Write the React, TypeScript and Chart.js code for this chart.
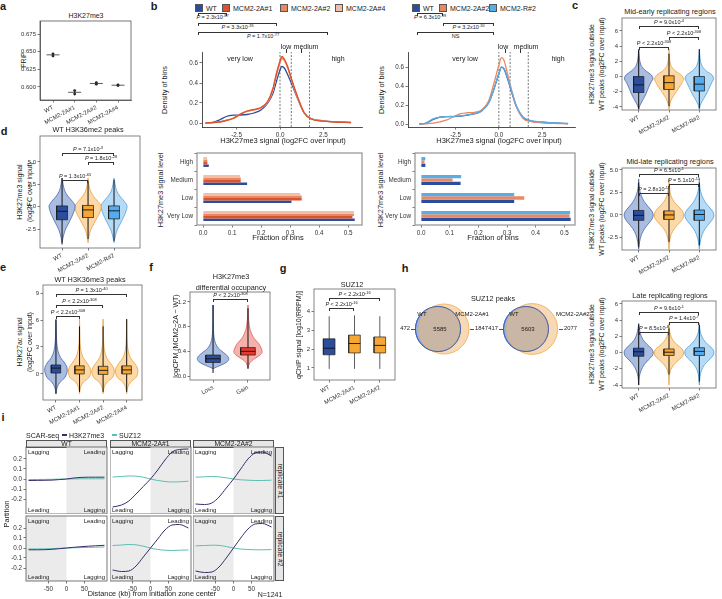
import React, { useEffect, useRef } from 'react';
import { Chart, registerables } from 'chart.js';

const FONT = '"Liberation Sans", Arial, Helvetica, sans-serif';

// ---------------- DATA ----------------
// a
const aCats = ['WT', 'MCM2-2A#1', 'MCM2-2A#2', 'MCM2-2A#4'];
const aRep1 = [0.647, 0.595, 0.606, 0.603];
const aRep2 = [0.644, 0.590, 0.604, 0.602];
const aMean = [0.6455, 0.5925, 0.605, 0.6025];
const aYTicks = [0.6, 0.625, 0.65, 0.675];

// b densities (left: WT / 2A#1 / 2A#2 / 2A#4)
const bLX = [-4.3, -3.9, -3.5, -3.1, -2.7, -2.3, -1.9, -1.5, -1.1, -0.7, -0.4, -0.2, 0, 0.1, 0.25, 0.45, 0.7, 1.0, 1.4, 1.8, 2.5, 3.2, 4.1];
const bLWT = [0, 0.005, 0.03, 0.065, 0.078, 0.08, 0.085, 0.1, 0.13, 0.2, 0.3, 0.42, 0.53, 0.565, 0.55, 0.48, 0.38, 0.25, 0.1, 0.045, 0.022, 0.013, 0.006];
const bL2A1 = [0, 0.003, 0.01, 0.025, 0.045, 0.085, 0.12, 0.135, 0.155, 0.22, 0.35, 0.5, 0.62, 0.665, 0.64, 0.56, 0.42, 0.27, 0.1, 0.04, 0.018, 0.01, 0.004];
const bL2A2 = [0, 0.003, 0.01, 0.026, 0.047, 0.088, 0.118, 0.133, 0.152, 0.215, 0.34, 0.49, 0.61, 0.65, 0.63, 0.55, 0.41, 0.26, 0.1, 0.04, 0.018, 0.01, 0.004];
const bL2A4 = [0, 0.003, 0.011, 0.028, 0.05, 0.09, 0.116, 0.13, 0.15, 0.21, 0.33, 0.48, 0.6, 0.64, 0.62, 0.545, 0.41, 0.26, 0.1, 0.041, 0.019, 0.01, 0.004];
// b densities (right: WT / 2A#2 / R#2)
const bRX = [-4.6, -4.2, -3.8, -3.4, -3.0, -2.6, -2.2, -1.8, -1.4, -1.0, -0.6, -0.3, 0, 0.15, 0.3, 0.5, 0.75, 1.0, 1.4, 1.8, 2.5, 3.2, 4.0];
const bRWT = [0, 0.01, 0.05, 0.075, 0.08, 0.08, 0.085, 0.095, 0.11, 0.14, 0.22, 0.36, 0.53, 0.6, 0.58, 0.48, 0.33, 0.19, 0.07, 0.035, 0.02, 0.012, 0.006];
const bR2A2 = [0, 0.003, 0.01, 0.025, 0.045, 0.08, 0.11, 0.12, 0.125, 0.15, 0.24, 0.42, 0.62, 0.7, 0.67, 0.53, 0.35, 0.19, 0.06, 0.03, 0.015, 0.008, 0.004];
const bRR2 = [0, 0.012, 0.055, 0.075, 0.08, 0.082, 0.088, 0.097, 0.11, 0.14, 0.22, 0.36, 0.53, 0.6, 0.585, 0.49, 0.34, 0.2, 0.075, 0.04, 0.022, 0.013, 0.007];
const bCuts = [0, 0.65, 1.7];
// b bars
const bLevels = ['High', 'Medium', 'Low', 'Very Low'];
const bBarWT = [0.02, 0.152, 0.305, 0.523];
const bBar2A1 = [0.015, 0.13, 0.34, 0.515];
const bBar2A2 = [0.015, 0.13, 0.34, 0.52];
const bBar2A4 = [0.014, 0.128, 0.335, 0.52];
const bRBarWT = [0.015, 0.138, 0.325, 0.522];
const bRBar2A2 = [0.012, 0.11, 0.36, 0.518];
const bRBarR2 = [0.015, 0.14, 0.325, 0.52];

// c violins
const cCats = ['WT', 'MCM2-2A#2', 'MCM2-R#2'];
const c1Y = [-4.3, -3.8, -3.2, -2.6, -2.0, -1.4, -0.8, -0.3, 0.2, 0.7, 1.3, 2.0, 2.8, 3.6];
const c1WT = [0, 0.04, 0.12, 0.2, 0.27, 0.33, 0.4, 0.47, 0.42, 0.25, 0.1, 0.04, 0.015, 0];
const c12A = [0, 0.02, 0.06, 0.14, 0.24, 0.34, 0.43, 0.48, 0.4, 0.22, 0.08, 0.03, 0.01, 0];
const c1R = [0, 0.03, 0.1, 0.19, 0.27, 0.34, 0.41, 0.47, 0.42, 0.24, 0.1, 0.04, 0.015, 0];
const c1Q1 = [-2.1, -1.7, -1.9], c1Med = [-1.1, -0.8, -1.0], c1Q3 = [0, 0.1, 0], c1Lo = [-4.3, -3.9, -4.2], c1Hi = [3.5, 3.0, 3.6];

const c2Y = [-3.8, -3.0, -2.2, -1.5, -0.9, -0.4, 0, 0.4, 0.9, 1.5, 2.2, 3.0, 4.0];
const c2WT = [0, 0.03, 0.09, 0.2, 0.34, 0.45, 0.48, 0.44, 0.32, 0.18, 0.08, 0.02, 0];
const c22A = [0, 0.02, 0.07, 0.18, 0.34, 0.46, 0.48, 0.45, 0.32, 0.16, 0.06, 0.02, 0];
const c2R = [0, 0.03, 0.09, 0.2, 0.34, 0.45, 0.48, 0.44, 0.32, 0.18, 0.08, 0.02, 0];
const c2Q1 = [-0.6, -0.5, -0.6], c2Med = [-0.05, 0, 0.05], c2Q3 = [0.5, 0.45, 0.55], c2Lo = [-3.6, -3.0, -3.4], c2Hi = [3.6, 3.2, 3.6];

const c3Y = [-4.0, -3.0, -2.2, -1.5, -0.9, -0.4, 0.1, 0.5, 1.0, 1.6, 2.3, 3.0, 3.6];
const c3WT = [0, 0.02, 0.08, 0.18, 0.32, 0.45, 0.48, 0.42, 0.28, 0.14, 0.06, 0.02, 0];
const c32A = [0, 0.01, 0.05, 0.16, 0.32, 0.46, 0.48, 0.42, 0.26, 0.12, 0.04, 0.01, 0];
const c3R = [0, 0.02, 0.07, 0.17, 0.32, 0.45, 0.48, 0.43, 0.28, 0.14, 0.05, 0.015, 0];
const c3Q1 = [-0.45, -0.35, -0.35], c3Med = [0.1, 0.05, 0.15], c3Q3 = [0.55, 0.45, 0.6], c3Lo = [-4.0, -2.7, -3.6], c3Hi = [3.5, 3.0, 3.4];

// d
const dY = [-4.0, -3.4, -2.6, -1.9, -1.2, -0.5, 0.1, 0.6, 1.2, 1.8, 2.5, 3.2];
const dWT = [0, 0.04, 0.12, 0.24, 0.36, 0.46, 0.5, 0.4, 0.22, 0.1, 0.04, 0];
const d2A = [0, 0.03, 0.1, 0.22, 0.35, 0.47, 0.5, 0.38, 0.2, 0.09, 0.03, 0];
const dR = [0, 0.04, 0.12, 0.24, 0.36, 0.46, 0.5, 0.4, 0.22, 0.1, 0.04, 0];
const dQ1 = [-1.45, -1.2, -1.35], dMed = [-0.5, -0.35, -0.45], dQ3 = [0.1, 0.15, 0.1], dLo = [-4.2, -3.6, -3.8], dHi = [3.2, 2.9, 3.0];

// e
const eCats = ['WT', 'MCM2-2A#1', 'MCM2-2A#2', 'MCM2-2A#4'];
const eY = [-2.2, -1.5, -0.9, -0.4, 0.2, 0.7, 1.2, 1.8, 2.6, 3.6, 4.6, 5.6, 6.1];
const eWT = [0, 0.05, 0.18, 0.38, 0.47, 0.47, 0.38, 0.2, 0.08, 0.03, 0.015, 0.005, 0];
const e2A1 = [0, 0.04, 0.17, 0.4, 0.48, 0.44, 0.32, 0.16, 0.06, 0.02, 0.01, 0.004, 0];
const e2A2 = [0, 0.04, 0.17, 0.4, 0.48, 0.44, 0.31, 0.15, 0.06, 0.02, 0.01, 0.004, 0];
const e2A4 = [0, 0.04, 0.17, 0.39, 0.48, 0.45, 0.33, 0.16, 0.06, 0.02, 0.01, 0.004, 0];
const eQ1 = [0.1, 0.0, -0.05, 0.0], eMed = [0.65, 0.45, 0.4, 0.45], eQ3 = [1.0, 0.9, 0.85, 0.9], eLo = [-2.2, -2.0, -2.0, -2.0], eHi = [6.0, 5.3, 5.3, 6.1];

// f
const fCats = ['Loss', 'Gain'];
const fY = [0.12, 0.17, 0.22, 0.27, 0.32, 0.38, 0.45, 0.53, 0.62, 0.75, 0.9, 1.15];
const fLoss = [0, 0.2, 0.38, 0.45, 0.42, 0.3, 0.15, 0.07, 0.03, 0.012, 0.005, 0];
const fGain = [0, 0.02, 0.06, 0.16, 0.3, 0.4, 0.38, 0.3, 0.16, 0.06, 0.02, 0];
const fQ1 = [0.22, 0.34], fMed = [0.28, 0.4], fQ3 = [0.34, 0.46], fLo = [0.05, 0.12], fHi = [1.15, 1.1];

// g
const gCats = ['WT', 'MCM2-2A#1', 'MCM2-2A#2'];
const gQ1 = [1.7, 1.8, 1.8], gMed = [2.05, 2.3, 2.2], gQ3 = [2.55, 2.75, 2.65], gLo = [0.95, 0.95, 0.95], gHi = [3.75, 3.8, 3.75];

// h venn counts
const hOnlyWT = [472, 417];
const hBoth = [5585, 5603];
const hOnlyMut = [1847, 2077];

// i SCAR-seq partition
const iX = [-105, -80, -60, -40, -20, 0, 20, 40, 60, 80, 105];
const iK27 = [
  [[-0.015, -0.014, -0.013, -0.011, -0.006, 0, 0.01, 0.016, 0.018, 0.018, 0.018],
   [-0.28, -0.26, -0.22, -0.15, -0.075, 0, 0.09, 0.19, 0.27, 0.295, 0.3],
   [-0.25, -0.255, -0.24, -0.18, -0.09, 0, 0.1, 0.2, 0.26, 0.27, 0.23]],
  [[-0.018, -0.018, -0.017, -0.013, -0.007, 0, 0.007, 0.013, 0.018, 0.022, 0.027],
   [-0.22, -0.235, -0.23, -0.18, -0.09, 0, 0.09, 0.18, 0.23, 0.235, 0.2],
   [-0.23, -0.245, -0.24, -0.19, -0.1, 0, 0.1, 0.19, 0.24, 0.245, 0.21]],
];
const iSUZ = [
  [[-0.006, -0.005, -0.004, -0.003, -0.001, 0, 0.001, 0.002, 0.002, 0.002, 0.002],
   [0.02, 0.025, 0.03, 0.028, 0.018, 0, -0.015, -0.025, -0.03, -0.028, -0.022],
   [0.018, 0.022, 0.025, 0.022, 0.012, 0, -0.008, -0.012, -0.015, -0.015, -0.012]],
  [[-0.01, -0.009, -0.008, -0.006, -0.003, 0, 0.002, 0.004, 0.006, 0.008, 0.01],
   [0.025, 0.03, 0.035, 0.032, 0.018, 0, -0.015, -0.022, -0.025, -0.022, -0.02],
   [0.022, 0.025, 0.028, 0.026, 0.015, 0, -0.01, -0.015, -0.018, -0.018, -0.016]],
];
const iCols = ['WT', 'MCM2-2A#1', 'MCM2-2A#2'];
const iRows = ['replicate #1', 'replicate #2'];

// ---------------- STYLE ----------------
const CWT = '#2c4c9c', C2A1 = '#d9532c', C2A2 = '#ea8862', C2A4 = '#f2bea9', CR2 = '#5aaee6';
const CPUR = '#3b2d6c', CTEAL = '#5cbfb1';
const vWT = { fill: '#a9bde1', line: '#4a66ac', box: '#2c4c9c' };
const v2A = { fill: '#fcd9a6', line: '#e9a145', box: '#f6a733' };
const vR = { fill: '#b7dbf5', line: '#4f9fdc', box: '#55abee' };
const vGain = { fill: '#f5b2ac', line: '#de5a50', box: '#e8392e' };

// ---------------- PLUGINS ----------------
const framePlugin = {
  id: 'frame',
  afterDatasetsDraw(chart: any, _a: any, opts: any) {
    if (!opts || !opts.color) return;
    const a = chart.chartArea; const ctx = chart.ctx;
    ctx.save(); ctx.strokeStyle = opts.color; ctx.lineWidth = opts.width || 1;
    ctx.strokeRect(a.left, a.top, a.right - a.left, a.bottom - a.top);
    ctx.restore();
  },
};
const bandPlugin = {
  id: 'bands',
  beforeDatasetsDraw(chart: any, _a: any, opts: any) {
    if (!opts || !opts.items) return;
    const { ctx, chartArea: a, scales } = chart;
    ctx.save();
    for (const b of opts.items) {
      const x0 = scales.x.getPixelForValue(b.x0), x1 = scales.x.getPixelForValue(b.x1);
      ctx.fillStyle = b.color;
      ctx.fillRect(Math.min(x0, x1), a.top, Math.abs(x1 - x0), a.bottom - a.top);
    }
    ctx.restore();
  },
};
Chart.register(...registerables, framePlugin, bandPlugin);

// ---------------- HELPERS ----------------
const tf = (s = 6) => ({ family: FONT, size: s });
function lin(min: number, max: number, ticks: number[], o: any = {}) {
  return {
    type: 'linear', min, max,
    afterBuildTicks: (s: any) => { s.ticks = ticks.map((v) => ({ value: v })); },
    ticks: {
      display: o.labels ?? true, font: tf(o.fs ?? 6), color: '#333', padding: o.pad ?? 1.5, autoSkip: false,
      maxRotation: o.rot ?? 0, minRotation: o.rot ?? 0, callback: o.fmt ?? ((v: number) => String(v)),
    },
    grid: { drawOnChartArea: false, drawTicks: o.tm ?? true, tickLength: 2.5, color: '#444', lineWidth: 0.7 },
    border: { display: o.border ?? true, color: o.bc ?? '#444', width: o.bw ?? 0.8 },
  };
}
function opts(scales: any, plugins: any = {}, extra: any = {}) {
  return { scales, plugins: { legend: { display: false }, tooltip: { enabled: false }, ...plugins }, events: [], ...extra };
}

type Fr = { x: number; y: number; w: number; h: number };
type Mg = { l: number; t: number; r: number; b: number };
function ChartBox({ f, m, cfg }: { f: Fr; m: Mg; cfg: () => any }) {
  const ref = useRef<HTMLCanvasElement>(null);
  useEffect(() => {
    const c = cfg();
    c.options = c.options || {};
    c.options.responsive = false;
    c.options.animation = false;
    c.options.devicePixelRatio = 1;
    c.options.layout = { autoPadding: false, padding: { left: 0, top: m.t, right: m.r, bottom: 0 } };
    const sc = c.options.scales || {};
    for (const k of Object.keys(sc)) {
      const horiz = k[0] === 'x';
      sc[k].afterFit = (ax: any) => {
        if (horiz) ax.height = m.b; else ax.width = m.l;
        ax.paddingLeft = 0; ax.paddingRight = 0; ax.paddingTop = 0; ax.paddingBottom = 0;
      };
    }
    const ch = new Chart(ref.current as HTMLCanvasElement, c);
    return () => ch.destroy();
  }, []);
  const W = f.w + m.l + m.r, H = f.h + m.t + m.b;
  return <canvas ref={ref} width={W} height={H} style={{ position: 'absolute', left: f.x - m.l, top: f.y - m.t, width: W, height: H }} />;
}

function T({ x, y, s = 7, a = 'c', r = 0, b = false, c = '#1a1a1a', children }: any) {
  const tx = a === 'l' ? '0%' : a === 'r' ? '-100%' : '-50%';
  return (
    <div style={{ position: 'absolute', left: x, top: y, fontSize: s, lineHeight: 1, fontWeight: b ? 700 : 400, color: c, whiteSpace: 'nowrap', fontFamily: FONT, transform: `translate(${tx},-50%) rotate(${r}deg)` }}>{children}</div>
  );
}
function PV({ op = '=', m, e }: any) {
  return <><i>P</i>{` ${op} ${m}x10`}<sup style={{ fontSize: '0.72em', verticalAlign: '0.55em', lineHeight: 0 }}>{e}</sup></>;
}
function Br({ x1, x2, y, below = false, children, s = 5.5 }: any) {
  return (
    <>
      <div style={{ position: 'absolute', left: x1, top: y, width: x2 - x1, height: 2.5, borderTop: '0.8px solid #333', borderLeft: '0.8px solid #333', borderRight: '0.8px solid #333', boxSizing: 'border-box' }} />
      <T x={(x1 + x2) / 2} y={below ? y + 5 : y - 3.2} s={s}>{children}</T>
    </>
  );
}
function Sq({ x, y, c }: any) {
  return <div style={{ position: 'absolute', left: x, top: y, width: 8, height: 8, background: c, border: '0.6px solid #555', boxSizing: 'border-box' }} />;
}

// ---------------- CHART CONFIGS ----------------
const cfgA = () => ({
  type: 'line',
  data: {
    datasets: [
      ...aCats.map((_, i) => ({ data: [{ x: i - 0.3, y: aMean[i] }, { x: i + 0.3, y: aMean[i] }], borderColor: '#333', borderWidth: 0.8, pointRadius: 0 })),
      ...aCats.map((_, i) => ({ data: [{ x: i, y: aRep1[i] }, { x: i, y: aRep2[i] }], borderColor: '#333', borderWidth: 0.7, pointRadius: 0 })),
      { data: aCats.flatMap((_, i) => [{ x: i, y: aRep1[i] }, { x: i, y: aRep2[i] }]), showLine: false, pointRadius: 1.4, pointBackgroundColor: '#222', pointBorderWidth: 0 },
    ],
  },
  options: opts({
    x: lin(-0.6, 3.6, [0, 1, 2, 3], { rot: 28, fmt: (v: number) => aCats[v] }),
    y: lin(0.5816, 0.6934, aYTicks, { fmt: (v: number) => v.toFixed(3) }),
  }, { frame: { color: '#555', width: 0.8 } }),
});

function densCfg(xs: number[], series: number[][], colors: string[], xMin: number, xMax: number, yMin: number, yMax: number) {
  const ds = series.map((s, k) => ({ data: xs.map((xv, i) => ({ x: xv, y: s[i] })), borderColor: colors[k], borderWidth: 1.3, pointRadius: 0, cubicInterpolationMode: 'monotone' }));
  const cuts = bCuts.map((c) => ({ data: [{ x: c, y: yMin }, { x: c, y: yMax }], borderColor: '#555', borderWidth: 0.8, borderDash: [2, 1.5], pointRadius: 0 }));
  return {
    type: 'line',
    data: { datasets: [...ds.reverse(), ...cuts] },
    options: opts({
      x: lin(xMin, xMax, [-2.5, 0, 2.5], { fmt: (v: number) => v.toFixed(1), bc: '#222', fs: 6.3 }),
      y: lin(yMin, yMax, [0, 0.2, 0.4, 0.6], { fmt: (v: number) => v.toFixed(1), bc: '#222', fs: 6.3 }),
    }),
  };
}

function barCfg(series: number[][], colors: string[], xMin: number, xMax: number) {
  return {
    type: 'bar',
    data: { labels: bLevels, datasets: series.map((s, k) => ({ data: s, backgroundColor: colors[k], borderWidth: 0, categoryPercentage: 0.55, barPercentage: 1 })) },
    options: opts({
      x: lin(xMin, xMax, [0, 0.1, 0.2, 0.3, 0.4, 0.5], { fmt: (v: number) => v.toFixed(1), border: false, fs: 6.3 }),
      y: { type: 'category', ticks: { font: tf(6.3), color: '#333', padding: 1.5 }, grid: { drawOnChartArea: false, tickLength: 2.5, color: '#444', lineWidth: 0.7 }, border: { display: false } },
    }, { frame: { color: '#9a9a9a', width: 1.3 } }, { indexAxis: 'y' }),
  };
}

function violinSets(yLv: number[], widths: number[][], q1: number[], med: number[], q3: number[], lo: number[], hi: number[], cols: any[], bw: number) {
  const meds: any[] = [], boxes: any[] = [], whisk: any[] = [], vio: any[] = [];
  widths.forEach((w, i) => {
    const right = yLv.map((y, k) => ({ x: i + w[k], y }));
    const left = yLv.map((y, k) => ({ x: i - w[k], y })).reverse();
    vio.push({ data: [...right, ...left], borderColor: cols[i].line, backgroundColor: cols[i].fill, fill: 'shape', borderWidth: 0.8, pointRadius: 0, tension: 0.3 });
    whisk.push({ data: [{ x: i, y: lo[i] }, { x: i, y: hi[i] }], borderColor: '#111', borderWidth: 1, pointRadius: 0 });
    boxes.push({ data: [{ x: i - bw, y: q1[i] }, { x: i + bw, y: q1[i] }, { x: i + bw, y: q3[i] }, { x: i - bw, y: q3[i] }, { x: i - bw, y: q1[i] }], borderColor: '#1a1a1a', backgroundColor: cols[i].box, fill: 'shape', borderWidth: 0.7, pointRadius: 0, tension: 0 });
    meds.push({ data: [{ x: i - bw, y: med[i] }, { x: i + bw, y: med[i] }], borderColor: '#111', borderWidth: 0.9, pointRadius: 0 });
  });
  return [...meds, ...boxes, ...whisk, ...vio];
}
function violinCfg(cats: string[], ds: any[], xMin: number, xMax: number, yMin: number, yMax: number, yT: number[], yFmt: (v: number) => string) {
  return {
    type: 'line',
    data: { datasets: ds },
    options: opts({
      x: lin(xMin, xMax, cats.map((_, i) => i), { rot: 28, fmt: (v: number) => cats[v], border: false }),
      y: lin(yMin, yMax, yT, { fmt: yFmt, border: false }),
    }, { frame: { color: '#666', width: 0.8 } }),
  };
}
const fmt1 = (v: number) => v.toFixed(1);
const fmt0 = (v: number) => String(v);

const cfgC1 = () => violinCfg(cCats, violinSets(c1Y, [c1WT, c12A, c1R], c1Q1, c1Med, c1Q3, c1Lo, c1Hi, [vWT, v2A, vR], 0.17), -0.55, 2.55, -4.4, 7.7, [-4, -2, 0, 2, 4, 6], fmt0);
const cfgC2 = () => violinCfg(cCats, violinSets(c2Y, [c2WT, c22A, c2R], c2Q1, c2Med, c2Q3, c2Lo, c2Hi, [vWT, v2A, vR], 0.17), -0.55, 2.55, -3.9, 5.22, [-2.5, 0, 2.5, 5], fmt1);
const cfgC3 = () => violinCfg(cCats, violinSets(c3Y, [c3WT, c32A, c3R], c3Q1, c3Med, c3Q3, c3Lo, c3Hi, [vWT, v2A, vR], 0.17), -0.55, 2.55, -4.37, 6.37, [-4, -2, 0, 2, 4, 6], fmt0);
const cfgD = () => violinCfg(cCats, violinSets(dY, [dWT, d2A, dR], dQ1, dMed, dQ3, dLo, dHi, [vWT, v2A, vR], 0.21), -0.85, 3.0, -4.6, 7.9, [-2.5, 0, 2.5, 5], fmt1);
const cfgE = () => violinCfg(eCats, violinSets(eY, [eWT, e2A1, e2A2, e2A4], eQ1, eMed, eQ3, eLo, eHi, [vWT, v2A, v2A, v2A], 0.2), -0.55, 3.65, -2.9, 9.9, [0, 3, 6, 9], fmt0);
const cfgF = () => violinCfg(fCats, violinSets(fY, [fLoss, fGain], fQ1, fMed, fQ3, fLo, fHi, [vWT, vGain], 0.21), -0.66, 1.63, -0.064, 1.36, [0, 0.4, 0.8, 1.2], fmt1);

const cfgG = () => {
  const bw = 0.23;
  const cols = [CWT, '#f6a733', '#f6a733'];
  const meds: any[] = [], boxes: any[] = [], whisk: any[] = [];
  gCats.forEach((_, i) => {
    meds.push({ data: [{ x: i - bw, y: gMed[i] }, { x: i + bw, y: gMed[i] }], borderColor: '#111', borderWidth: 0.9, pointRadius: 0 });
    boxes.push({ data: [{ x: i - bw, y: gQ1[i] }, { x: i + bw, y: gQ1[i] }, { x: i + bw, y: gQ3[i] }, { x: i - bw, y: gQ3[i] }, { x: i - bw, y: gQ1[i] }], borderColor: '#222', backgroundColor: cols[i], fill: 'shape', borderWidth: 0.7, pointRadius: 0, tension: 0 });
    whisk.push({ data: [{ x: i, y: gLo[i] }, { x: i, y: gHi[i] }], borderColor: '#333', borderWidth: 0.8, pointRadius: 0 });
  });
  return violinCfg(gCats, [...meds, ...boxes, ...whisk], -0.6, 2.6, 0.36, 5.2, [1, 2, 3, 4], fmt0);
};

// venn geometry from counts
const HK = 0.29; // px per sqrt(count)
function overlapArea(r1: number, r2: number, d: number) {
  if (d >= r1 + r2) return 0;
  if (d <= Math.abs(r1 - r2)) return Math.PI * Math.min(r1, r2) ** 2;
  const a1 = r1 * r1 * Math.acos((d * d + r1 * r1 - r2 * r2) / (2 * d * r1));
  const a2 = r2 * r2 * Math.acos((d * d + r2 * r2 - r1 * r1) / (2 * d * r2));
  const a3 = 0.5 * Math.sqrt((-d + r1 + r2) * (d + r1 - r2) * (d - r1 + r2) * (d + r1 + r2));
  return a1 + a2 - a3;
}
function vennGeom(k: number) {
  const rW = HK * Math.sqrt(hOnlyWT[k] + hBoth[k]);
  const rM = HK * Math.sqrt(hBoth[k] + hOnlyMut[k]);
  const target = Math.PI * HK * HK * hBoth[k];
  let lo = Math.abs(rW - rM), hi = rW + rM;
  for (let it = 0; it < 60; it++) { const mid = (lo + hi) / 2; if (overlapArea(rW, rM, mid) > target) lo = mid; else hi = mid; }
  return { rW, rM, d: (lo + hi) / 2 };
}
const vennAnchor = [38, 126]; // WT circle centre within the venn canvas
const cfgH = () => {
  const g = [vennGeom(0), vennGeom(1)];
  const wtOutline = { data: g.map((v, k) => ({ x: vennAnchor[k], y: 29, r: v.rW })), backgroundColor: 'rgba(0,0,0,0)', borderColor: '#3d5fb0', borderWidth: 0.9 };
  const mut = { data: g.map((v, k) => ({ x: vennAnchor[k] + v.d, y: 29, r: v.rM })), backgroundColor: 'rgba(240,185,120,0.55)', borderColor: '#f0b35e', borderWidth: 0.9 };
  const wt = { data: g.map((v, k) => ({ x: vennAnchor[k], y: 29, r: v.rW })), backgroundColor: '#9cb2dc', borderColor: '#3d5fb0', borderWidth: 0.9 };
  return {
    type: 'bubble',
    data: { datasets: [wtOutline, mut, wt] },
    options: opts({ x: { type: 'linear', min: 0, max: 180, display: false }, y: { type: 'linear', min: 0, max: 58, display: false } }, {}, { clip: false }),
  };
};

function iCfg(row: number, col: number) {
  const yMin = row === 0 ? -0.35 : -0.33;
  const yMax = 0.32;
  const shade = row === 0 ? { x0: 0, x1: 112, color: '#ebebeb' } : { x0: -112, x1: 0, color: '#ebebeb' };
  return {
    type: 'line',
    data: {
      datasets: [
        { data: iX.map((x, i) => ({ x, y: iK27[row][col][i] })), borderColor: CPUR, borderWidth: 1, pointRadius: 0, cubicInterpolationMode: 'monotone' },
        { data: iX.map((x, i) => ({ x, y: iSUZ[row][col][i] })), borderColor: CTEAL, borderWidth: 1, pointRadius: 0, cubicInterpolationMode: 'monotone' },
      ],
    },
    options: opts({
      x: lin(-112, 112, [-50, 0, 50], { labels: row === 1, tm: row === 1, border: false, fs: 6.3 }),
      y: lin(yMin, yMax, [-0.2, -0.1, 0, 0.1, 0.2], { labels: col === 0, tm: col === 0, border: false, fmt: fmt1, fs: 6.3 }),
    }, { frame: { color: '#555', width: 0.8 }, bands: { items: [shade] } }),
  };
}

// ---------------- APP ----------------
export default function App() {
  const iColX = [26, 110, 193];
  const iRowY = [447, 516];
  const iRowH = [67, 65];
  return (
    <div style={{ position: 'absolute', left: 0, top: 0, width: 722, height: 599, background: '#fff', overflow: 'hidden', fontFamily: FONT }}>
      {/* panel letters */}
      <T x={3} y={6} s={11} b>a</T>
      <T x={154} y={6} s={11} b>b</T>
      <T x={575} y={5} s={11} b>c</T>
      <T x={4} y={131} s={11} b>d</T>
      <T x={3} y={267} s={11} b>e</T>
      <T x={151} y={267} s={11} b>f</T>
      <T x={283} y={268} s={11} b>g</T>
      <T x={405} y={268} s={11} b>h</T>
      <T x={3} y={417} s={11} b>i</T>

      {/* a */}
      <T x={86} y={15} s={7}>H3K27me3</T>
      <T x={23} y={60} s={7} r={-90}>FRiP</T>
      <ChartBox f={{ x: 40, y: 21, w: 91, h: 79 }} m={{ l: 30, t: 3, r: 3, b: 45 }} cfg={cfgA} />

      {/* b legends */}
      <Sq x={195} y={4} c={CWT} /><T x={206} y={8} s={7} a="l">WT</T>
      <Sq x={222} y={4} c={C2A1} /><T x={233} y={8} s={7} a="l">MCM2-2A#1</T>
      <Sq x={280} y={4} c={C2A2} /><T x={291} y={8} s={7} a="l">MCM2-2A#2</T>
      <Sq x={335} y={4} c={C2A4} /><T x={346} y={8} s={7} a="l">MCM2-2A#4</T>
      <Sq x={412} y={4} c={CWT} /><T x={423} y={8} s={7} a="l">WT</T>
      <Sq x={439} y={4} c={C2A2} /><T x={450} y={8} s={7} a="l">MCM2-2A#2</T>
      <Sq x={489} y={4} c={CR2} /><T x={500} y={8} s={7} a="l">MCM2-R#2</T>
      <Br x1={198} x2={227} y={13} below><PV m="2.3" e="-87" /></Br>
      <Br x1={198} x2={277} y={23} below><PV m="3.3" e="-35" /></Br>
      <Br x1={198} x2={328} y={32} below><PV m="1.7" e="-77" /></Br>
      <Br x1={417} x2={443} y={13} below><PV m="6.3" e="-99" /></Br>
      <Br x1={443} x2={494} y={23} below><PV m="3.2" e="-30" /></Br>
      <Br x1={417} x2={494} y={32} below>NS</Br>

      {/* b density */}
      <T x={165} y={90} s={7.3} r={-90}>Density of bins</T>
      <T x={382} y={90} s={7.3} r={-90}>Density of bins</T>
      <ChartBox f={{ x: 202, y: 52, w: 160, h: 75 }} m={{ l: 22, t: 2, r: 2, b: 12 }} cfg={() => densCfg(bLX, [bLWT, bL2A4, bL2A2, bL2A1], [CWT, C2A4, C2A2, C2A1], -4.5, 4.73, -0.04, 0.71)} />
      <ChartBox f={{ x: 408, y: 52, w: 167, h: 75 }} m={{ l: 22, t: 2, r: 2, b: 12 }} cfg={() => densCfg(bRX, [bRWT, bR2A2, bRR2], [CWT, C2A2, CR2], -5.25, 4.4, -0.03, 0.76)} />
      <T x={240} y={58} s={7}>very low</T>
      <T x={338} y={58} s={7}>high</T>
      <T x={286} y={46} s={7}>low</T>
      <T x={306} y={46} s={7}>medium</T>
      <div style={{ position: 'absolute', left: 285.5, top: 49, width: 0.8, height: 4, background: '#333' }} />
      <div style={{ position: 'absolute', left: 300.5, top: 49, width: 0.8, height: 4, background: '#333' }} />
      <T x={465} y={58} s={7}>very low</T>
      <T x={558} y={58} s={7}>high</T>
      <T x={503} y={46} s={7}>low</T>
      <T x={526} y={46} s={7}>medium</T>
      <div style={{ position: 'absolute', left: 504.5, top: 49, width: 0.8, height: 4, background: '#333' }} />
      <div style={{ position: 'absolute', left: 519.5, top: 49, width: 0.8, height: 4, background: '#333' }} />
      <T x={283} y={141} s={7.5}>H3K27me3 signal (log2FC over input)</T>
      <T x={499} y={141} s={7.5}>H3K27me3 signal (log2FC over input)</T>

      {/* b bars */}
      <T x={161} y={190} s={7.3} r={-90}>H3K27me3 signal level</T>
      <T x={381} y={190} s={7.3} r={-90}>H3K27me3 signal level</T>
      <ChartBox f={{ x: 197, y: 153, w: 165, h: 72 }} m={{ l: 34, t: 2, r: 2, b: 12 }} cfg={() => barCfg([bBar2A4, bBar2A2, bBar2A1, bBarWT], [C2A4, C2A2, C2A1, CWT], -0.0207, 0.548)} />
      <ChartBox f={{ x: 415, y: 153, w: 160, h: 72 }} m={{ l: 34, t: 2, r: 2, b: 12 }} cfg={() => barCfg([bRBarR2, bRBar2A2, bRBarWT], [CR2, C2A2, CWT], -0.021, 0.537)} />
      <T x={278} y={238} s={7.5}>Fraction of bins</T>
      <T x={493} y={238} s={7.5}>Fraction of bins</T>

      {/* c */}
      <T x={670} y={12} s={7.3}>Mid-early replicating regions</T>
      <T x={591} y={64} s={7} r={-90}>H3K27me3 signal outside</T>
      <T x={601} y={64} s={7} r={-90}>WT peaks (log2FC over input)</T>
      <ChartBox f={{ x: 622, y: 18, w: 94, h: 92 }} m={{ l: 14, t: 2, r: 2, b: 40 }} cfg={cfgC1} />
      <Br x1={639} x2={699} y={26}><PV m="9.0" e="-4" /></Br>
      <Br x1={669} x2={699} y={37}><PV op="<" m="2.2" e="-308" /></Br>
      <Br x1={639} x2={669} y={47}><PV op="<" m="2.2" e="-308" /></Br>

      <T x={670} y={162} s={7.3}>Mid-late replicating regions</T>
      <T x={591} y={209} s={7} r={-90}>H3K27me3 signal outside</T>
      <T x={601} y={209} s={7} r={-90}>WT peaks (log2FC over input)</T>
      <ChartBox f={{ x: 622, y: 168, w: 94, h: 82 }} m={{ l: 14, t: 2, r: 2, b: 40 }} cfg={cfgC2} />
      <Br x1={639} x2={699} y={174}><PV m="6.5" e="-1" /></Br>
      <Br x1={669} x2={699} y={184}><PV m="5.1" e="-15" /></Br>
      <Br x1={639} x2={669} y={193}><PV m="2.8" e="-11" /></Br>

      <T x={670} y={296} s={7.3}>Late replicating regions</T>
      <T x={591} y={344} s={7} r={-90}>H3K27me3 signal outside</T>
      <T x={601} y={344} s={7} r={-90}>WT peaks (log2FC over input)</T>
      <ChartBox f={{ x: 622, y: 301, w: 94, h: 87 }} m={{ l: 14, t: 2, r: 2, b: 40 }} cfg={cfgC3} />
      <Br x1={639} x2={699} y={312}><PV m="9.6" e="-1" /></Br>
      <Br x1={669} x2={699} y={322}><PV m="1.4" e="-7" /></Br>
      <Br x1={639} x2={669} y={332}><PV m="8.5" e="-8" /></Br>

      {/* d */}
      <T x={88} y={130} s={7.3}>WT H3K36me2 peaks</T>
      <T x={19} y={192} s={7} r={-90}>H3K27me3 signal</T>
      <T x={29} y={192} s={7} r={-90}>(log2FC over input)</T>
      <ChartBox f={{ x: 40, y: 136, w: 100, h: 112 }} m={{ l: 14, t: 2, r: 2, b: 40 }} cfg={cfgD} />
      <Br x1={62} x2={114} y={153}><PV m="7.1" e="-3" /></Br>
      <Br x1={88} x2={114} y={162}><PV m="1.8" e="-28" /></Br>
      <Br x1={62} x2={88} y={180}><PV m="1.3" e="-65" /></Br>

      {/* e */}
      <T x={90} y={280} s={7.3}>WT H3K36me3 peaks</T>
      <T x={19} y={342} s={7} r={-90}>H3K27ac signal</T>
      <T x={29} y={342} s={7} r={-90}>(log2FC over input)</T>
      <ChartBox f={{ x: 43, y: 285, w: 99, h: 115 }} m={{ l: 10, t: 2, r: 2, b: 40 }} cfg={cfgE} />
      <Br x1={56} x2={127} y={294}><PV m="1.3" e="-40" /></Br>
      <Br x1={56} x2={103} y={305}><PV op="<" m="2.2" e="-308" /></Br>
      <Br x1={56} x2={80} y={316}><PV op="<" m="2.2" e="-308" /></Br>

      {/* f */}
      <T x={231} y={277} s={7.3}>H3K27me3</T>
      <T x={231} y={288} s={7.3}>differential occupancy</T>
      <T x={175} y={336} s={7} r={-90}>logCPM (MCM2−2A − WT)</T>
      <ChartBox f={{ x: 190, y: 292, w: 80, h: 88 }} m={{ l: 12, t: 2, r: 2, b: 30 }} cfg={cfgF} />
      <Br x1={213} x2={248} y={299}><PV op="<" m="2.2" e="-308" /></Br>

      {/* g */}
      <T x={352} y={285} s={7.3}>SUZ12</T>
      <T x={298} y={335} s={7} r={-90}>qChIP signal [log10(RRPM)]</T>
      <ChartBox f={{ x: 314, y: 289, w: 81, h: 91 }} m={{ l: 9, t: 2, r: 2, b: 40 }} cfg={cfgG} />
      <Br x1={329} x2={380} y={298}><PV op="<" m="2.2" e="-16" /></Br>
      <Br x1={329} x2={354} y={308}><PV op="<" m="2.2" e="-16" /></Br>

      {/* h */}
      <T x={493} y={299} s={7.3}>SUZ12 peaks</T>
      <ChartBox f={{ x: 400, y: 300, w: 180, h: 58 }} m={{ l: 0, t: 0, r: 0, b: 0 }} cfg={cfgH} />
      <T x={422} y={314} s={6}>WT</T>
      <T x={472} y={314} s={6}>MCM2-2A#1</T>
      <T x={410} y={329} s={5.8} a="r">472</T>
      <div style={{ position: 'absolute', left: 411, top: 328.5, width: 5, height: 0.8, background: '#555' }} />
      <T x={440} y={329} s={6}>5585</T>
      <div style={{ position: 'absolute', left: 470, top: 328.5, width: 4, height: 0.8, background: '#555' }} />
      <T x={475} y={329} s={5.8} a="l">1847</T>
      <T x={514} y={314} s={6}>WT</T>
      <T x={556} y={314} s={6} a="l">MCM2-2A#2</T>
      <T x={498} y={329} s={5.8} a="r">417</T>
      <div style={{ position: 'absolute', left: 499, top: 328.5, width: 4, height: 0.8, background: '#555' }} />
      <T x={528} y={329} s={6}>5603</T>
      <div style={{ position: 'absolute', left: 559, top: 328.5, width: 4, height: 0.8, background: '#555' }} />
      <T x={564} y={329} s={5.8} a="l">2077</T>

      {/* i */}
      <T x={26} y={435} s={7} a="l">SCAR-seq</T>
      <div style={{ position: 'absolute', left: 62, top: 434, width: 5, height: 2, background: CPUR }} />
      <T x={69} y={435} s={7} a="l">H3K27me3</T>
      <div style={{ position: 'absolute', left: 112, top: 434, width: 5, height: 2, background: CTEAL }} />
      <T x={119} y={435} s={7} a="l">SUZ12</T>
      {iCols.map((name, c) => (
        <React.Fragment key={'s' + c}>
          <div style={{ position: 'absolute', left: iColX[c], top: 440, width: 81, height: 7.5, background: '#e6e6e6', border: '0.8px solid #555', boxSizing: 'border-box' }} />
          <T x={iColX[c] + 40.5} y={444} s={6.8}>{name}</T>
        </React.Fragment>
      ))}
      {iRows.map((name, r) => (
        <React.Fragment key={'r' + r}>
          <div style={{ position: 'absolute', left: 275, top: iRowY[r], width: 8.5, height: iRowH[r], background: '#e6e6e6', border: '0.8px solid #555', boxSizing: 'border-box' }} />
          <T x={279.5} y={iRowY[r] + iRowH[r] / 2} s={6.8} r={90}>{name}</T>
        </React.Fragment>
      ))}
      {[0, 1].map((r) => iCols.map((_, c) => (
        <React.Fragment key={`p${r}${c}`}>
          <ChartBox f={{ x: iColX[c], y: iRowY[r], w: 81, h: iRowH[r] }} m={{ l: c === 0 ? 18 : 0, t: 1, r: 1, b: r === 1 ? 11 : 0 }} cfg={() => iCfg(r, c)} />
          <T x={iColX[c] + 2} y={iRowY[r] + 5} s={6} a="l">Lagging</T>
          <T x={iColX[c] + 79} y={iRowY[r] + 5} s={6} a="r">Leading</T>
          <T x={iColX[c] + 2} y={iRowY[r] + iRowH[r] - 4.5} s={6} a="l">Leading</T>
          <T x={iColX[c] + 79} y={iRowY[r] + iRowH[r] - 4.5} s={6} a="r">Lagging</T>
        </React.Fragment>
      )))}
      <T x={7} y={514} s={7.3} r={-90}>Partition</T>
      <T x={152} y={594} s={7.3}>Distance (kb) from initiation zone center</T>
      <T x={270} y={594} s={7}>N=1241</T>
    </div>
  );
}
